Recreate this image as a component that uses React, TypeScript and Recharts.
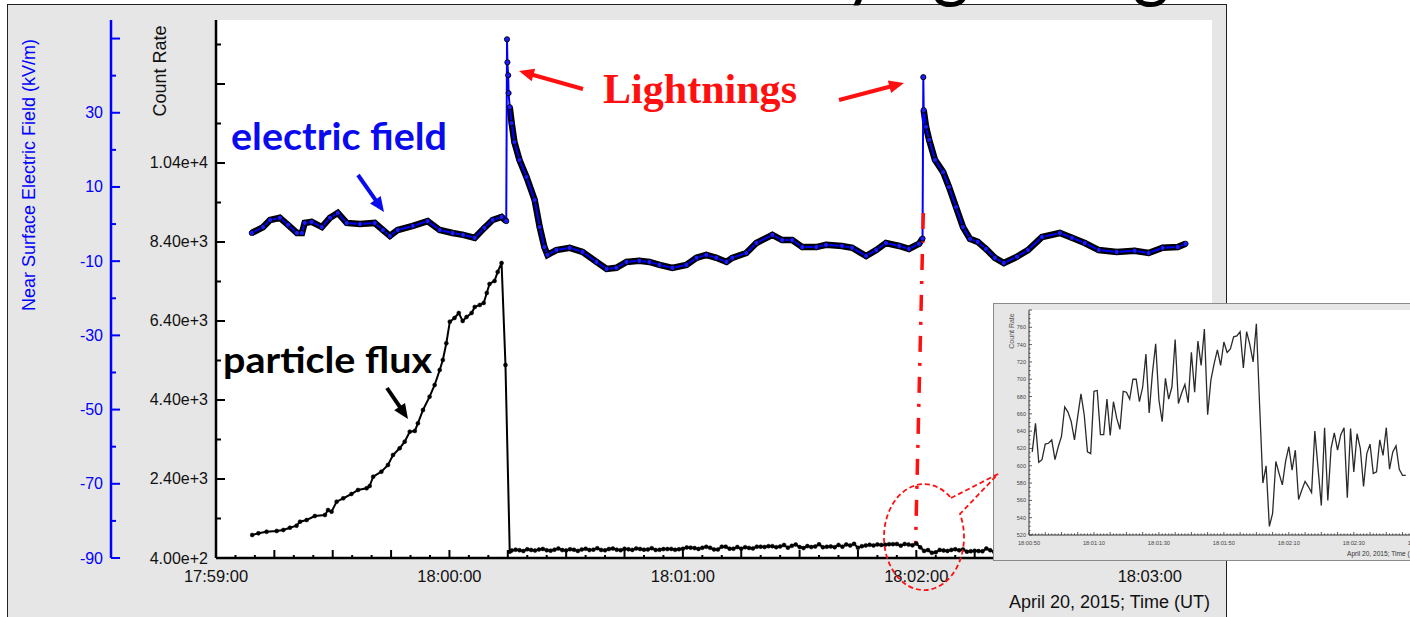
import React from "react";
import { LineChart, Line, XAxis, YAxis, CartesianGrid, ReferenceLine } from "recharts";

// electric field: seconds after 17:59:00, kV/m
const efTime = [
  9.2, 12.1, 13.9, 16.4, 18.5, 20.8, 22.1, 22.8, 24.6, 27.2, 29.3, 31.3, 33.6, 37.0, 40.8, 42.9,
  44.7, 46.7, 50.6, 54.4, 57.5, 60.8, 63.5, 66.5, 69.0, 71.1, 73.4, 74.6, 74.8, 74.9, 75.1, 75.2,
  75.5, 76.0, 76.7, 78.0, 79.8, 81.9, 83.2, 84.4, 85.2, 87.5, 90.9, 94.2, 97.8, 100.4, 102.9, 105.5,
  108.8, 111.4, 114.0, 117.3, 120.9, 123.5, 126.0, 128.6, 131.2, 132.7, 136.3, 138.9, 143.0, 145.5,
  148.1, 150.7, 154.3, 156.8, 160.9, 163.5, 167.1, 169.7, 172.2, 175.6, 178.1, 180.7, 181.6, 181.8,
  181.9, 182.5, 183.3, 184.8, 186.9, 188.4, 190.2, 192.0, 193.8, 195.8, 197.9, 200.2, 202.5, 205.9,
  208.7, 212.3, 216.9, 220.0, 223.3, 226.9, 231.5, 236.1, 239.7, 243.3, 247.2, 249.2,
];
const efValue = [
  -2.4, -0.8, 1.1, 1.7, -0.2, -2.4, -2.4, 0.3, 0.6, -0.8, 1.7, 3.0, 0.3, 0.0, 0.3, -1.6,
  -3.2, -1.6, -0.5, 0.8, -1.6, -2.4, -2.9, -3.7, -1.0, 1.1, 1.9, 0.8, 49.8, 43.6, 40.1, 35.3,
  31.5, 27.2, 22.1, 17.3, 12.7, 6.5, -0.8, -6.2, -8.3, -7.0, -6.4, -7.5, -10.2, -12.1, -11.8, -10.2,
  -9.9, -10.2, -11.0, -11.8, -11.0, -9.1, -8.3, -9.1, -10.2, -9.1, -7.8, -5.1, -2.9, -4.3,
  -4.3, -6.2, -6.2, -5.6, -5.9, -6.4, -8.6, -7.0, -5.1, -5.9, -6.7, -5.3, -3.9, 39.6,
  30.7, 26.2, 22.7, 17.3, 14.0, 10.0, 4.6, -0.8, -4.0, -4.8, -6.7, -9.1, -10.5, -8.8,
  -7.0, -3.5, -2.4, -3.7, -5.1, -7.0, -7.5, -7.2, -7.8, -6.4, -6.2, -5.3,
];

// particle flux before the drop: seconds after 17:59:00, counts
const fluxTime = [
  9.3, 10.9, 13.0, 15.6, 17.3, 19.0, 20.7, 21.6, 23.3, 25.4, 28.0, 28.8, 29.7, 31.0, 32.7, 34.8,
  36.5, 38.7, 39.5, 40.4, 42.5, 44.2, 45.5, 47.2, 48.5, 49.8, 51.1, 51.9, 53.2, 54.9, 56.2, 57.5,
  58.3, 59.2, 60.1, 61.3, 62.4, 63.4, 64.4, 65.7, 66.5, 67.8, 68.8, 69.6, 70.3, 71.6, 72.4, 73.4,
  74.4, 75.5,
];
const fluxValue = [
  982, 1025, 1066, 1084, 1109, 1167, 1218, 1319, 1362, 1463, 1489, 1615, 1573, 1826, 1911, 2020,
  2122, 2165, 2223, 2459, 2585, 2755, 3008, 3177, 3345, 3598, 3616, 3810, 4147, 4484, 4780, 5160,
  5413, 5836, 6383, 6477, 6603, 6401, 6502, 6603, 6755, 6806, 6857, 7110, 7338, 7414, 7642, 7869,
  5287, 560,
];
// flux after the drop, one sample per second from 17:59:00 + 76 s
const fluxFlatStart = 76;
const fluxFlat = [
  590, 612, 598, 575, 620, 603, 588, 615, 630, 596, 584, 610, 641, 600, 593, 622, 608, 579,
  615, 634, 601, 612, 648, 604, 595, 627, 640, 610, 598, 633, 620, 605, 642, 628, 611,
];

// inset: count rate, one sample per second from 18:00:51
const insetStart = 51;
const insetCount = [
  616, 649, 604, 607, 625, 626, 630, 607, 622, 634, 668, 662, 651, 630, 657, 683, 659, 616, 614, 686,
  687, 636, 636, 677, 635, 674, 655, 642, 686, 685, 677, 700, 700, 674, 691, 729, 661, 707, 741, 676,
  651, 701, 677, 691, 746, 672, 684, 694, 673, 731, 685, 744, 716, 758, 659, 699, 718, 734, 716, 743,
  731, 735, 749, 750, 755, 713, 755, 740, 720, 764, 670, 580, 600, 530, 545, 605, 591, 578, 605, 622,
  595, 618, 561, 572, 582, 576, 569, 640, 597, 554, 644, 560, 620, 638, 618, 636, 644, 563, 643, 593,
  637, 620, 576, 614, 625, 591, 593, 630, 612, 644, 596, 616, 623, 596, 589, 589,
];

const countTicks = Array.from({ length: 14 }, (_, i) => 400 + i * 1000);
const countLabels = [400, 2400, 4400, 6400, 8400, 10400];
const fieldTicks = Array.from({ length: 15 }, (_, i) => -90 + i * 10);
const fieldLabels = [30, 10, -10, -30, -50, -70, -90];
const timeTicks = Array.from({ length: 52 }, (_, i) => i * 5);
const insetXTicks = Array.from({ length: 126 }, (_, i) => 50 + i);
const insetYTicks = Array.from({ length: 53 }, (_, i) => 520 + i * 5);
const insetYLabels = [520, 540, 560, 580, 600, 620, 640, 660, 680, 700, 720, 740, 760];

const BLUE = "#0000ff";
const RED = "#ff1010";

const efData = efTime.map((t, i) => ({ t, v: efValue[i] }));
// thick black band of overlapping markers, broken over the fast spike rise
const efBand = efTime.map((t, i) => ({ t, v: efValue[i] > 32 ? null : efValue[i] }));
const fluxData = [
  ...fluxTime.map((t, i) => ({ t, v: fluxValue[i] })),
  ...fluxFlat.map((v, i) => ({ t: fluxFlatStart + i, v })),
  ...insetCount.map((v, i) => ({ t: insetStart + 60 + i, v })),
];
const insetData = insetCount.map((v, i) => ({ t: insetStart + i, v }));

const hms = (sec: number, base: number) => {
  const s = base + sec;
  const p = (n: number) => String(n).padStart(2, "0");
  return `${p(Math.floor(s / 3600))}:${p(Math.floor(s / 60) % 60)}:${p(s % 60)}`;
};

const CountTick = (p: any) => {
  const v = p.payload.value;
  const ax = p.x + 8;
  const major = (v - 400) % 2000 === 0;
  return (
    <g>
      <line x1={ax} x2={ax + (major ? 9 : 5)} y1={p.y} y2={p.y} stroke="#000" strokeWidth={2} />
      {countLabels.includes(v) && (
        <text x={p.x} y={p.y + 5.5} textAnchor="end" fontSize={16} fill="#111">
          {v.toExponential(2)}
        </text>
      )}
    </g>
  );
};

const FieldTick = (p: any) => {
  const v = p.payload.value;
  const ax = p.x + 8;
  const major = (v + 90) % 20 === 0;
  return (
    <g>
      <line x1={ax} x2={ax + (major ? 9 : 5)} y1={p.y} y2={p.y} stroke={BLUE} strokeWidth={2} />
      {fieldLabels.includes(v) && (
        <text x={p.x} y={p.y + 5.5} textAnchor="end" fontSize={16} fill={BLUE}>
          {v}
        </text>
      )}
    </g>
  );
};

const TimeTick = (p: any) => {
  const v = p.payload.value;
  const ay = p.y - 4;
  const major = v % 15 === 0;
  return (
    <g>
      <line x1={p.x} x2={p.x} y1={ay} y2={ay - (major ? 8 : 3)} stroke="#000" strokeWidth={2} />
      {v % 60 === 0 && (
        <text x={p.x} y={ay + 24} textAnchor="middle" fontSize={16.5} fill="#111">
          {hms(v, 17 * 3600 + 59 * 60)}
        </text>
      )}
    </g>
  );
};

const InsetXTick = (p: any) => {
  const v = p.payload.value;
  const ay = p.y - 3;
  const mid = v % 5 === 0;
  return (
    <g>
      <line x1={p.x} x2={p.x} y1={ay} y2={ay - (mid ? 3 : 1.6)} stroke="#333" strokeWidth={0.8} />
      {v % 20 === 10 && (
        <text x={p.x} y={ay + 10} textAnchor="middle" fontSize={5.7} fill="#444">
          {hms(v, 18 * 3600)}
        </text>
      )}
    </g>
  );
};

const InsetYTick = (p: any) => {
  const v = p.payload.value;
  const ax = p.x + 3;
  const major = v % 20 === 0;
  return (
    <g>
      <line x1={ax} x2={ax + (major ? 3 : 1.6)} y1={p.y} y2={p.y} stroke="#333" strokeWidth={0.8} />
      {insetYLabels.includes(v) && (
        <text x={p.x} y={p.y + 2} textAnchor="end" fontSize={5.5} fill="#444">
          {v}
        </text>
      )}
    </g>
  );
};

function Arrow({ x1, y1, x2, y2, color, w = 4, head = 15, hw = 13 }: any) {
  const len = Math.hypot(x2 - x1, y2 - y1);
  const ux = (x2 - x1) / len;
  const uy = (y2 - y1) / len;
  const bx = x2 - ux * head;
  const by = y2 - uy * head;
  const px = -uy * (hw / 2);
  const py = ux * (hw / 2);
  return (
    <g>
      <line x1={x1} y1={y1} x2={bx + ux * 2} y2={by + uy * 2} stroke={color} strokeWidth={w} />
      <polygon points={`${x2},${y2} ${bx + px},${by + py} ${bx - px},${by - py}`} fill={color} />
    </g>
  );
}

export default function App() {
  return (
    <div
      style={{
        position: "absolute",
        left: 0,
        top: 0,
        width: 1410,
        height: 617,
        overflow: "hidden",
        background: "#fff",
        fontFamily: '"Liberation Sans", Arial, sans-serif',
      }}
    >
      <div
        style={{
          position: "absolute",
          left: 7,
          top: 4,
          width: 1220,
          height: 700,
          background: "#e6e6e6",
          borderTop: "1px solid #222",
          borderLeft: "1px solid #222",
          borderRight: "1px solid #222",
          boxSizing: "border-box",
        }}
      />
      <div style={{ position: "absolute", left: 0, top: 0 }}>
        <LineChart width={1410} height={617} margin={{ top: 20, right: 198, left: 7, bottom: 0 }}>
          <CartesianGrid fill="#ffffff" stroke="none" />
          <XAxis
            dataKey="t"
            type="number"
            domain={[0, 256]}
            allowDataOverflow
            ticks={timeTicks}
            interval={0}
            height={59}
            tickSize={0}
            tickMargin={4}
            tick={TimeTick}
            tickLine={false}
            axisLine={{ stroke: "#000", strokeWidth: 2.5 }}
          />
          <YAxis
            yAxisId="cr"
            orientation="left"
            width={105}
            type="number"
            domain={[400, 14020]}
            allowDataOverflow
            ticks={countTicks}
            interval={0}
            tickSize={0}
            tickMargin={8}
            tick={CountTick}
            tickLine={false}
            axisLine={{ stroke: "#000", strokeWidth: 2.5 }}
          />
          <YAxis
            yAxisId="ef"
            orientation="left"
            width={104}
            type="number"
            domain={[-90, 55]}
            allowDataOverflow
            ticks={fieldTicks}
            interval={0}
            tickSize={0}
            tickMargin={8}
            tick={FieldTick}
            tickLine={false}
            axisLine={{ stroke: BLUE, strokeWidth: 2.5 }}
          />
          <Line
            yAxisId="cr"
            data={fluxData}
            dataKey="v"
            type="linear"
            stroke="#000"
            strokeWidth={2}
            dot={{ r: 2, fill: "#000", stroke: "#000", strokeWidth: 0.5 }}
            isAnimationActive={false}
          />
          <Line
            yAxisId="ef"
            data={efBand}
            dataKey="v"
            type="linear"
            stroke="#000"
            strokeWidth={6.5}
            dot={false}
            isAnimationActive={false}
          />
          <Line
            yAxisId="ef"
            data={efData}
            dataKey="v"
            type="linear"
            stroke={BLUE}
            strokeWidth={2}
            dot={{ r: 2.6, fill: "#1a1aff", stroke: "#000", strokeWidth: 0.9 }}
            isAnimationActive={false}
          />
          <ReferenceLine
            yAxisId="ef"
            segment={[
              { x: 181.8, y: 3 },
              { x: 179.8, y: -86.5 },
            ]}
            stroke={RED}
            strokeWidth={3.5}
            strokeDasharray="16 11 3 11"
            ifOverflow="visible"
          />
        </LineChart>
      </div>

      <div
        style={{
          position: "absolute",
          left: 993,
          top: 303,
          width: 447,
          height: 258,
          background: "#e6e6e6",
          border: "1px solid #8a8a8a",
          boxSizing: "border-box",
        }}
      >
        <LineChart width={445} height={256} data={insetData} margin={{ top: 6, right: 4, left: 0, bottom: 0 }}>
          <CartesianGrid fill="#ffffff" stroke="none" />
          <XAxis
            dataKey="t"
            type="number"
            domain={[50, 175]}
            allowDataOverflow
            ticks={insetXTicks}
            interval={0}
            height={25}
            tickSize={0}
            tickMargin={3}
            tick={InsetXTick}
            tickLine={false}
            axisLine={{ stroke: "#333", strokeWidth: 1 }}
          />
          <YAxis
            width={35}
            type="number"
            domain={[520, 780]}
            allowDataOverflow
            ticks={insetYTicks}
            interval={0}
            tickSize={0}
            tickMargin={3}
            tick={InsetYTick}
            tickLine={false}
            axisLine={{ stroke: "#333", strokeWidth: 1 }}
          />
          <Line
            dataKey="v"
            type="linear"
            stroke="#2a2a2a"
            strokeWidth={1.3}
            dot={false}
            isAnimationActive={false}
          />
        </LineChart>
      </div>

      <svg
        width={1410}
        height={617}
        style={{ position: "absolute", left: 0, top: 0, pointerEvents: "none" }}
      >
        <text x={805} y={-8} fontFamily="Lato, sans-serif" fontSize={77} textLength={365} lengthAdjust="spacingAndGlyphs" fill="#000">
          by lightning
        </text>
        <text transform="translate(29,175) rotate(-90)" textAnchor="middle" dominantBaseline="central" fontSize={18} fill={BLUE}>
          Near Surface Electric Field (kV/m)
        </text>
        <text transform="translate(160,71) rotate(-90)" textAnchor="middle" dominantBaseline="central" fontSize={18} fill="#111">
          Count Rate
        </text>
        <text x={1210} y={608} textAnchor="end" fontSize={18} fill="#111">
          April 20, 2015; Time (UT)
        </text>

        <text x={231} y={150} fontFamily="Lato, sans-serif" fontWeight={700} fontSize={38} textLength={216} lengthAdjust="spacingAndGlyphs" fill="#0a0aee">
          electric field
        </text>
        <Arrow x1={358} y1={175} x2={384} y2={212} color="#0a0aee" />
        <text x={223} y={373} fontFamily="Lato, sans-serif" fontWeight={700} fontSize={36} textLength={209} lengthAdjust="spacingAndGlyphs" fill="#000">
          particle flux
        </text>
        <Arrow x1={387} y1={388} x2={408} y2={419} color="#000" />
        <text x={603} y={103} fontFamily='"Liberation Serif", serif' fontWeight={700} fontSize={42} textLength={194} lengthAdjust="spacingAndGlyphs" fill={RED}>
          Lightnings
        </text>
        <Arrow x1={583} y1={89} x2={519} y2={71} color={RED} />
        <Arrow x1={839} y1={100} x2={904} y2={83} color={RED} />

        <path
          d="M 951 498 L 998 474 L 960 514 A 40 53 0 1 1 951 498"
          fill="none"
          stroke={RED}
          strokeWidth={1.8}
          strokeDasharray="5 3"
        />

        <text transform="translate(1011,331) rotate(-90)" textAnchor="middle" dominantBaseline="central" fontSize={7} fill="#555">
          Count Rate
        </text>
        <text x={1347} y={556} fontSize={6.6} fill="#333">
          April 20, 2015; Time (UT)
        </text>
      </svg>
    </div>
  );
}
